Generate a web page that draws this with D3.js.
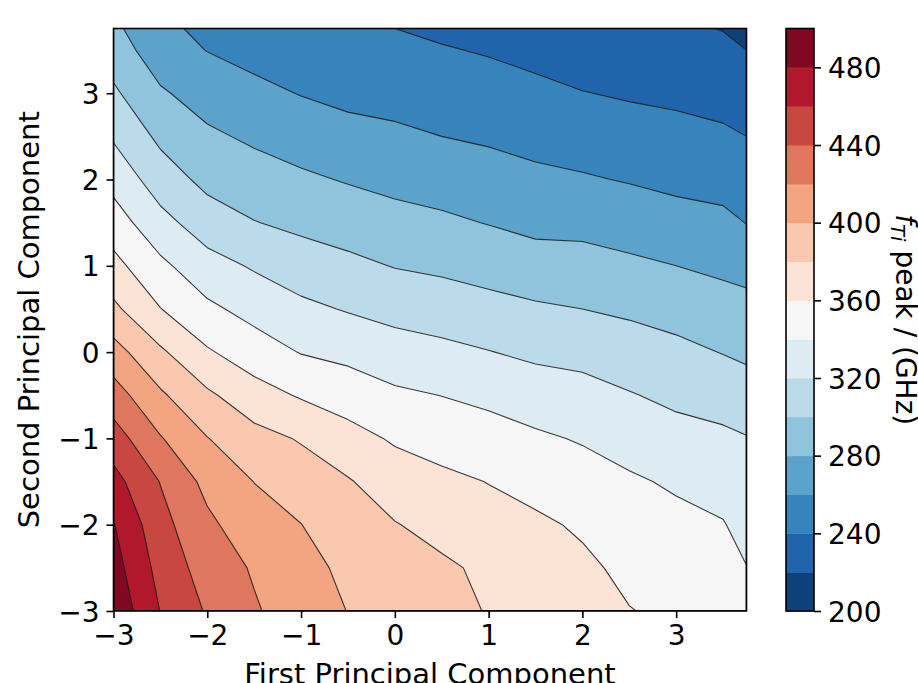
<!DOCTYPE html>
<html>
<head>
<meta charset="utf-8">
<script src="https://cdn.jsdelivr.net/npm/d3@7"></script>
<style>
  body { margin: 0; background: #fff; }
  svg text { font-family: "DejaVu Sans", sans-serif; fill: #000; }
</style>
</head>
<body>
<svg id="chart" width="918" height="683"></svg>
<script>
// grid columns: First Principal Component
const pc1 = [-3, -2.5, -2, -1.5, -1, -0.5, 0, 0.5, 1, 1.5, 2, 2.5, 3, 3.5, 3.75];
// grid rows: Second Principal Component (top to bottom)
const pc2 = [3.75, 3.5, 3, 2.5, 2, 1.5, 1, 0.5, 0, -0.5, -1, -1.5, -2, -2.5, -3];

// f_Ti peak (GHz), one row per pc2 value
const fPeak = [
  [284, 265, 255, 248, 245, 242, 240, 236.6, 233.8, 230, 225, 222.3, 222.5, 219.5, 212],
  [290, 269, 259.5, 253.5, 250, 248, 244.5, 241.3, 238.5, 234.8, 230.2, 227.5, 226.4, 223, 220],
  [303.2, 282.4, 271.5, 265.1, 259.2, 254.7, 253.6, 250.7, 247.9, 244.4, 240.6, 238, 236.1, 233, 229.7],
  [317.7, 295.7, 283.4, 276.7, 271.2, 266.8, 263.4, 260, 257.4, 254, 251, 248.3, 245.8, 243.1, 240],
  [333.3, 310.1, 294.6, 288.6, 283.2, 278.6, 274.6, 271.5, 268.1, 264.1, 261.8, 258.8, 255.5, 253.7, 249.8],
  [349.5, 326.4, 309.8, 300.7, 295.6, 291.3, 286.6, 283.4, 279.3, 275, 274.4, 271, 267, 264.1, 259.6],
  [366, 344.4, 327.4, 317.9, 309.6, 304.5, 299.2, 296.4, 292.5, 288.1, 287.2, 283.7, 280, 276.1, 273.7],
  [384.1, 360.5, 344, 333.5, 324.4, 318.6, 313.6, 310.3, 306.3, 302.7, 300, 296.8, 292.8, 287.8, 285.9],
  [407.8, 383.2, 362.2, 349.4, 339.1, 334.8, 328.5, 324.8, 320.6, 316.2, 314.1, 309.2, 304.8, 299.3, 296.4],
  [428.9, 403, 383.4, 368.1, 358.1, 350.8, 343.4, 339.7, 335.5, 329.9, 326.7, 321.2, 315.8, 312.1, 308.7],
  [449.3, 421.4, 400.6, 386.6, 378.4, 367.1, 357.7, 352.6, 348, 343, 338.4, 332.8, 326.7, 323.6, 320.9],
  [466.8, 439.3, 414.4, 399.7, 389.9, 381.5, 370, 364.2, 359.5, 354.7, 348.3, 342.4, 337.6, 333, 327.4],
  [481, 446.5, 424.2, 408.2, 400.3, 387.7, 380.9, 374.1, 367, 362.8, 357.9, 348.6, 344.8, 341, 333.9],
  [488, 453.2, 431.1, 418, 406, 396, 386.9, 383, 376.5, 367.9, 363, 356.5, 350.9, 346, 340.4],
  [495, 459.5, 438, 422, 410, 399.6, 392.8, 386, 379, 373, 364, 360.5, 357, 352, 349]
];

const levels = [200, 220, 240, 260, 280, 300, 320, 340, 360, 380, 400, 420, 440, 460, 480, 500];
const xTicks = [-3, -2, -1, 0, 1, 2, 3];
const yTicks = [-3, -2, -1, 0, 1, 2, 3];
const cbarTicks = [200, 240, 280, 320, 360, 400, 440, 480];

const plot = { left: 113.5, top: 28.5, right: 746.5, bottom: 611 };
const cbar = { left: 786, right: 814 };
const fontSize = 28;
const labelSize = 29;

const svg = d3.select("#chart");

const x = d3.scaleLinear().domain([-3, 3.75]).range([plot.left, plot.right]);
const y = d3.scaleLinear().domain([-3, 3.75]).range([plot.bottom, plot.top]);

// matplotlib RdBu_r (256 entries)
const rdbu = ["#053061", "#2166ac", "#4393c3", "#92c5de", "#d1e5f0", "#f7f7f7",
              "#fddbc7", "#f4a582", "#d6604d", "#b2182b", "#67001f"];
const cmap = d3.scaleLinear()
  .domain(d3.range(11).map(i => i / 10))
  .range(rdbu)
  .interpolate(d3.interpolateRgb);
const lo = levels[0], hi = levels[levels.length - 1];
function bandColor(v) {
  const t = (v + 10 - lo) / (hi - lo);
  return cmap(Math.min(255, Math.floor(t * 256)) / 255);
}

// contours on the grid, then grid index -> data -> pixels
const nx = pc1.length, ny = pc2.length;
const contours = d3.contours()
  .size([nx, ny])
  .thresholds(levels.slice(0, -1))(fPeak.flat());

const ix = d3.scaleLinear().domain(d3.range(nx)).range(pc1).clamp(true);
const iy = d3.scaleLinear().domain(d3.range(ny)).range(pc2).clamp(true);
const path = d3.geoPath(d3.geoTransform({
  point(px, py) { this.stream.point(x(ix(px - 0.5)), y(iy(py - 0.5))); }
}));

svg.append("clipPath").attr("id", "plotclip")
  .append("rect")
  .attr("x", plot.left).attr("y", plot.top)
  .attr("width", plot.right - plot.left).attr("height", plot.bottom - plot.top);

const g = svg.append("g").attr("clip-path", "url(#plotclip)");

g.selectAll("path.band")
  .data(contours)
  .enter()
  .append("path")
  .attr("class", "band")
  .attr("d", path)
  .attr("fill", d => bandColor(d.value))
  .attr("stroke", d => bandColor(d.value))
  .attr("stroke-width", 0.3);

g.selectAll("path.line")
  .data(contours.filter(d => d.value > lo))
  .enter()
  .append("path")
  .attr("class", "line")
  .attr("d", path)
  .attr("fill", "none")
  .attr("stroke", "#1a1a1a")
  .attr("stroke-opacity", 0.85)
  .attr("stroke-width", 1.1)
  .attr("stroke-linejoin", "round");

// axes
const fmt = d3.format("d");

const xAxis = svg.append("g")
  .attr("transform", `translate(0,${plot.bottom})`)
  .call(d3.axisBottom(x).tickValues(xTicks).tickFormat(fmt).tickSize(7).tickPadding(7));
const yAxis = svg.append("g")
  .attr("transform", `translate(${plot.left},0)`)
  .call(d3.axisLeft(y).tickValues(yTicks).tickFormat(fmt).tickSize(7).tickPadding(7));

[xAxis, yAxis].forEach(a => {
  a.select(".domain").remove();
  a.selectAll(".tick line").attr("stroke", "#000").attr("stroke-width", 1.6);
  a.selectAll(".tick text")
    .style("font-family", "'DejaVu Sans', sans-serif")
    .style("font-size", fontSize + "px");
});
yAxis.selectAll(".tick text").attr("dy", "0.36em");

svg.append("rect")
  .attr("x", plot.left).attr("y", plot.top)
  .attr("width", plot.right - plot.left).attr("height", plot.bottom - plot.top)
  .attr("fill", "none").attr("stroke", "#000").attr("stroke-width", 1.6);

svg.append("text")
  .attr("x", (plot.left + plot.right) / 2)
  .attr("y", 683.5)
  .attr("text-anchor", "middle")
  .style("font-size", labelSize + "px")
  .text("First Principal Component");

svg.append("text")
  .attr("transform", `translate(39,${(plot.top + plot.bottom) / 2}) rotate(-90)`)
  .attr("text-anchor", "middle")
  .style("font-size", labelSize + "px")
  .text("Second Principal Component");

// colorbar
const cy = d3.scaleLinear().domain([lo, hi]).range([plot.bottom, plot.top]);

svg.append("g").selectAll("rect")
  .data(levels.slice(0, -1))
  .enter()
  .append("rect")
  .attr("x", cbar.left)
  .attr("width", cbar.right - cbar.left)
  .attr("y", d => cy(d + 20))
  .attr("height", d => cy(d) - cy(d + 20) + 0.5)
  .attr("fill", d => bandColor(d));

svg.append("rect")
  .attr("x", cbar.left).attr("y", plot.top)
  .attr("width", cbar.right - cbar.left).attr("height", plot.bottom - plot.top)
  .attr("fill", "none").attr("stroke", "#000").attr("stroke-width", 1.6);

const cAxis = svg.append("g")
  .attr("transform", `translate(${cbar.right},0)`)
  .call(d3.axisRight(cy).tickValues(cbarTicks).tickFormat(fmt).tickSize(7).tickPadding(7));
cAxis.select(".domain").remove();
cAxis.selectAll(".tick line").attr("stroke", "#000").attr("stroke-width", 1.6);
cAxis.selectAll(".tick text")
  .attr("dy", "0.36em")
  .style("font-family", "'DejaVu Sans', sans-serif")
  .style("font-size", fontSize + "px");

const cLabel = svg.append("text")
  .attr("transform", `translate(896,${(plot.top + plot.bottom) / 2}) rotate(90)`)
  .attr("text-anchor", "middle")
  .style("font-size", fontSize + "px");
cLabel.append("tspan").attr("font-style", "italic").text("f");
cLabel.append("tspan").attr("font-style", "italic")
  .attr("dy", 5).style("font-size", "19.6px").text("Ti");
cLabel.append("tspan").attr("dy", -5).text(" peak / (GHz)");
</script>
</body>
</html>
